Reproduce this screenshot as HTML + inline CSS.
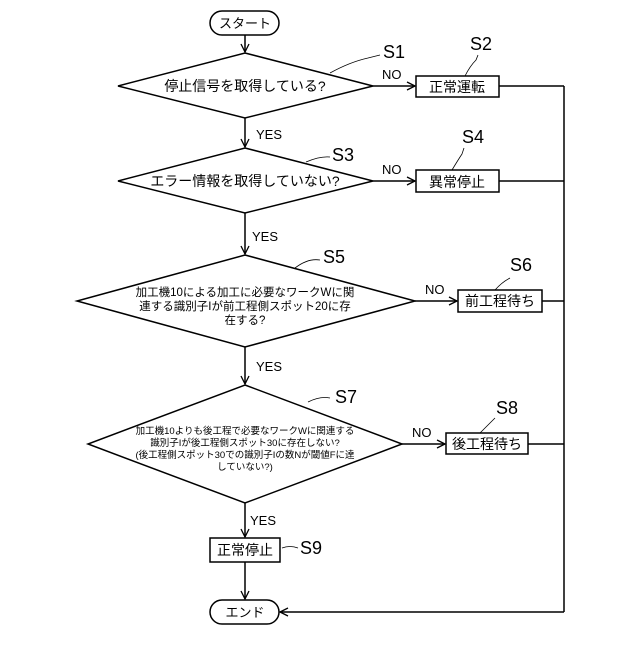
<!DOCTYPE html>
<html><head><meta charset="utf-8"><style>
body{margin:0;background:#fff}
text{font-family:"Liberation Sans","Noto Sans CJK JP",sans-serif;fill:#000}
</style></head><body>
<svg width="640" height="640" viewBox="0 0 640 640" xmlns="http://www.w3.org/2000/svg">
<defs><marker id="a" markerWidth="10" markerHeight="10" refX="9" refY="5" orient="auto" markerUnits="userSpaceOnUse"><path d="M1,1 L9,5 L1,9" fill="none" stroke="#000" stroke-width="1.3"/></marker></defs>
<g fill="none" stroke="#000" stroke-width="1.5">
<rect x="210" y="11" width="69" height="24" rx="12"/>
<line x1="245" y1="35" x2="245" y2="52" marker-end="url(#a)"/>
<polygon points="245,53 373,86 245,118 118,86" fill="#fff"/>
<line x1="373" y1="86" x2="415" y2="86" marker-end="url(#a)"/>
<rect x="416" y="76" width="83" height="21"/>
<line x1="499" y1="86" x2="564" y2="86"/>
<line x1="245" y1="118" x2="245" y2="147" marker-end="url(#a)"/>
<polygon points="245,148 373,181 245,213 118,181" fill="#fff"/>
<line x1="373" y1="181" x2="415" y2="181" marker-end="url(#a)"/>
<rect x="416" y="170" width="83" height="22"/>
<line x1="499" y1="181" x2="564" y2="181"/>
<line x1="245" y1="213" x2="245" y2="254" marker-end="url(#a)"/>
<polygon points="245,255 415,301 245,347 77,301" fill="#fff"/>
<line x1="415" y1="301" x2="457" y2="301" marker-end="url(#a)"/>
<rect x="458" y="290" width="84" height="22"/>
<line x1="542" y1="301" x2="564" y2="301"/>
<line x1="245" y1="347" x2="245" y2="384" marker-end="url(#a)"/>
<polygon points="245,385 402,444 245,503 88,444" fill="#fff"/>
<line x1="402" y1="444" x2="445" y2="444" marker-end="url(#a)"/>
<rect x="446" y="433" width="82" height="21"/>
<line x1="528" y1="444" x2="564" y2="444"/>
<line x1="245" y1="503" x2="245" y2="537" marker-end="url(#a)"/>
<rect x="210" y="538" width="70" height="24"/>
<line x1="245" y1="562" x2="245" y2="599" marker-end="url(#a)"/>
<rect x="210" y="600" width="69" height="24" rx="12"/>
<line x1="564" y1="86" x2="564" y2="612"/>
<line x1="564" y1="612" x2="280" y2="612" marker-end="url(#a)"/>
<path d="M330,73 Q350,62 368,58 L380,55" stroke-width="0.8"/>
<path d="M465,76 Q470,66 476,60 L478,55" stroke-width="0.8"/>
<path d="M306,162 Q320,156 330,157" stroke-width="0.8"/>
<path d="M452,170 Q458,160 462,154 L464,148" stroke-width="0.8"/>
<path d="M295,268 Q308,258 320,260" stroke-width="0.8"/>
<path d="M495,290 Q502,282 510,278" stroke-width="0.8"/>
<path d="M308,402 Q320,396 330,398" stroke-width="0.8"/>
<path d="M480,433 Q488,425 495,418" stroke-width="0.8"/>
<path d="M282,548 Q290,545 298,548" stroke-width="0.8"/>
</g>
<g font-size="13" text-anchor="middle">
<text x="245" y="28">スタート</text>
<text x="245" y="91" font-size="14">停止信号を取得している?</text>
<text x="457" y="92" font-size="14">正常運転</text>
<text x="245" y="186" font-size="14">エラー情報を取得していない?</text>
<text x="457" y="187" font-size="14">異常停止</text>
<text x="245" y="296" font-size="11.5">加工機10による加工に必要なワークWに関</text>
<text x="245" y="310" font-size="11.5">連する識別子Iが前工程側スポット20に存</text>
<text x="245" y="324" font-size="11.5">在する?</text>
<text x="500" y="306" font-size="14">前工程待ち</text>
<text x="245" y="434" font-size="9.5">加工機10よりも後工程で必要なワークWに関連する</text>
<text x="245" y="446" font-size="9.5">識別子Iが後工程側スポット30に存在しない?</text>
<text x="245" y="458" font-size="9.5">(後工程側スポット30での識別子Iの数Nが閾値Fに達</text>
<text x="245" y="470" font-size="9.5">していない?)</text>
<text x="487" y="449" font-size="14">後工程待ち</text>
<text x="245" y="555" font-size="14">正常停止</text>
<text x="245" y="617">エンド</text>
</g>
<g font-size="13">
<text x="382" y="79">NO</text>
<text x="382" y="174">NO</text>
<text x="425" y="294">NO</text>
<text x="412" y="437">NO</text>
<text x="256" y="139">YES</text>
<text x="252" y="241">YES</text>
<text x="256" y="371">YES</text>
<text x="250" y="525">YES</text>
</g>
<g font-size="18">
<text x="383" y="58">S1</text>
<text x="470" y="50">S2</text>
<text x="332" y="161">S3</text>
<text x="462" y="143">S4</text>
<text x="323" y="263">S5</text>
<text x="510" y="271">S6</text>
<text x="335" y="403">S7</text>
<text x="496" y="414">S8</text>
<text x="300" y="554">S9</text>
</g>
</svg>
</body></html>
